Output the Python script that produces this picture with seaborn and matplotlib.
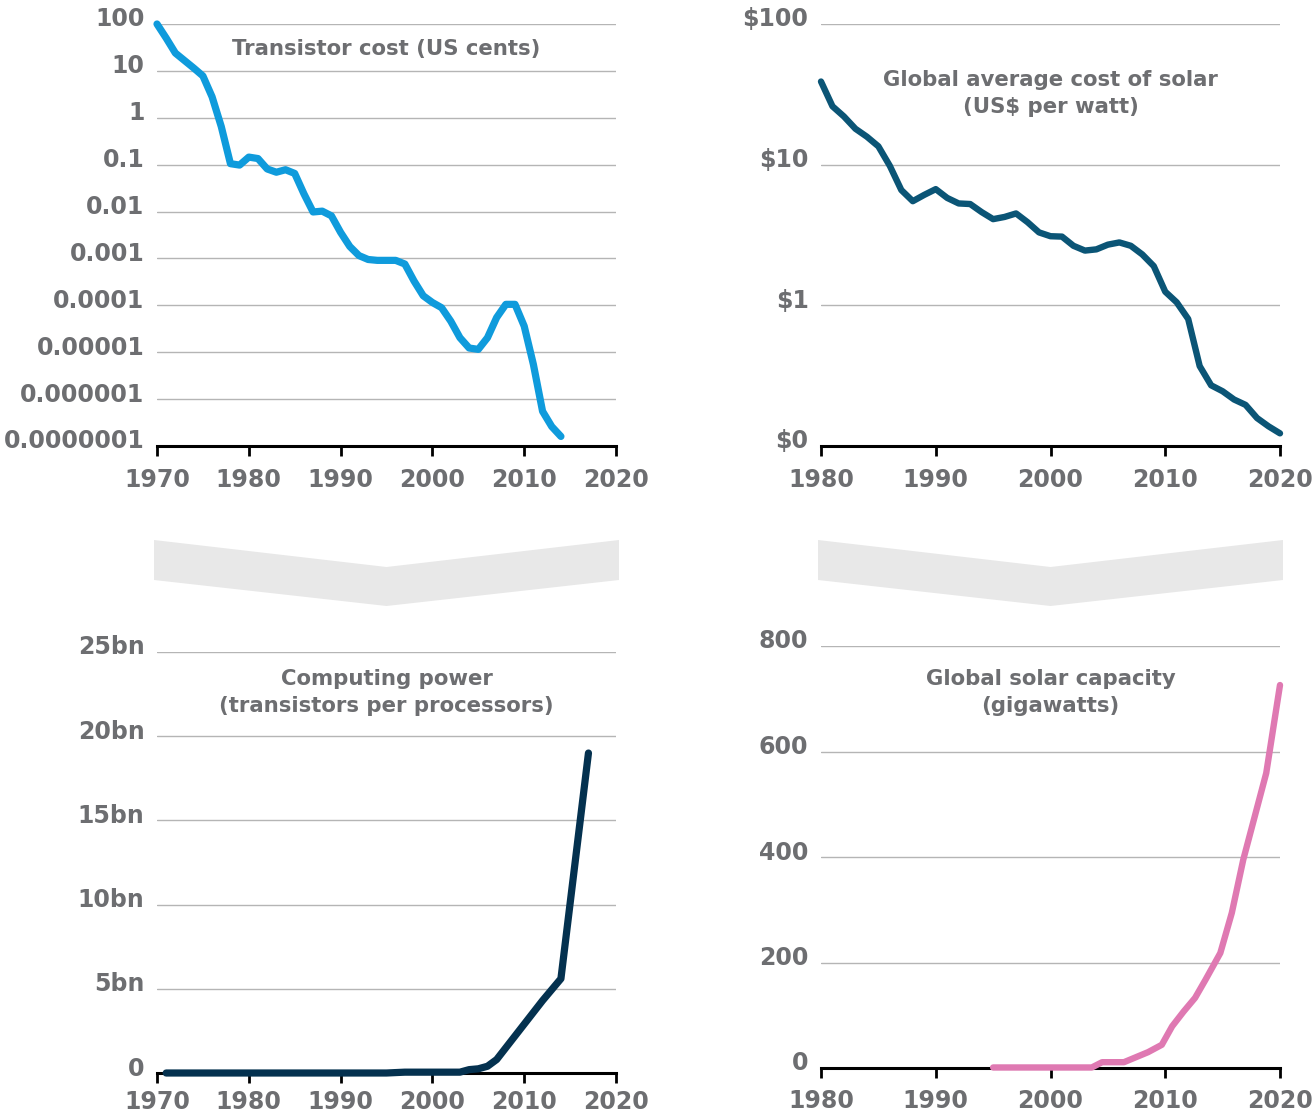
import matplotlib
matplotlib.use("Agg")
import matplotlib.pyplot as plt
import matplotlib.transforms as mtransforms
from matplotlib.patches import Polygon
import seaborn as sns

# --- Transistor cost (US cents), log scale ---
cost_years = list(range(1970, 2015))
cost_cents = [100, 50, 24, 16.6, 11.5, 7.8, 2.8, 0.65, 0.105, 0.098,
              0.145, 0.135, 0.081, 0.069, 0.078, 0.065, 0.024, 0.0098, 0.0102, 0.0081,
              0.0036, 0.0018, 0.00115, 0.00095, 0.00091, 0.00091, 0.00091, 0.00076, 0.00033, 0.00016,
              0.000115, 0.000089, 0.000046, 0.0000204, 0.0000123, 0.0000115, 0.0000204, 0.000055,
              0.000105, 0.000105, 0.000036, 0.0000055, 5.5e-7, 2.6e-7, 1.6e-7]
cost_ticks = [1e-7, 1e-6, 1e-5, 1e-4, 1e-3, 1e-2, 1e-1, 1, 10, 100]
cost_labels = ["0.0000001", "0.000001", "0.00001", "0.0001", "0.001",
               "0.01", "0.1", "1", "10", "100"]

# --- Global average cost of solar (US$ per watt), log scale ---
solar_years = list(range(1980, 2021))
solar_cost = [39, 26, 22, 18, 15.8, 13.5, 9.8, 6.6, 5.5, 6.1,
              6.7, 5.8, 5.3, 5.25, 4.6, 4.1, 4.25, 4.5, 3.9, 3.3,
              3.1, 3.08, 2.65, 2.45, 2.5, 2.7, 2.8, 2.65, 2.3, 1.9,
              1.25, 1.05, 0.8, 0.37, 0.27, 0.245, 0.214, 0.196, 0.158, 0.138,
              0.123]
solar_cost_ticks = [0.1, 1, 10, 100]
solar_cost_labels = ["$0", "$1", "$10", "$100"]

# --- Computing power (transistors per processor, billions) ---
chip_years = [1971, 1995, 1997, 2003, 2004, 2005, 2006, 2007, 2010, 2012, 2014, 2017]
chip_bn = [0, 0, 0.05, 0.05, 0.2, 0.25, 0.4, 0.8, 2.9, 4.3, 5.6, 19.0]
chip_ticks = [0, 5, 10, 15, 20, 25]
chip_labels = ["0", "5bn", "10bn", "15bn", "20bn", "25bn"]

# --- Global solar capacity (gigawatts) ---
cap_years = [1995, 2003.6, 2004.5, 2006.4, 2008.5, 2009.7, 2010.6, 2011.6, 2012.6,
             2013.5, 2014.8, 2015.8, 2016.8, 2017.8, 2018.8, 2020]
cap_gw = [1, 1, 11, 11, 30, 44, 79, 107, 133, 167, 218, 294, 395, 477, 559, 726]
cap_ticks = [0, 200, 400, 600, 800]
cap_labels = ["0", "200", "400", "600", "800"]

GREY_TEXT = "#6d6e71"
GRID = "#b5b5b5"
FONT = "DejaVu Sans"

sns.set_theme(style="white")
plt.rcParams["font.family"] = [FONT]

W, H = 1312, 1115
fig = plt.figure(figsize=(W / 100, H / 100), dpi=100)


def px_axes(x0, x1, ytop, ybot):
    return fig.add_axes([x0 / W, 1 - ybot / H, (x1 - x0) / W, (ybot - ytop) / H])


def style_axes(ax, xlim, xticks, yticks, ylabels, title, title_y, xpad=9):
    ax.set_xlim(*xlim)
    ax.set_xticks(xticks)
    ax.set_xticklabels([str(t) for t in xticks])
    ax.set_yticks(yticks)
    ax.set_yticklabels(ylabels)
    ax.set_xlabel("")
    ax.set_ylabel("")
    for s in ("top", "right", "left"):
        ax.spines[s].set_visible(False)
    ax.spines["bottom"].set_color("black")
    ax.spines["bottom"].set_linewidth(2.2)
    ax.spines["bottom"].set_zorder(4)
    ax.grid(axis="y", color=GRID, linewidth=1.0)
    ax.grid(axis="x", visible=False)
    ax.set_axisbelow(True)
    ax.tick_params(axis="x", bottom=True, length=7, width=2, color="black",
                   pad=xpad, labelsize=17, labelcolor=GREY_TEXT)
    ax.tick_params(axis="y", left=False, length=0, pad=9,
                   labelsize=17, labelcolor=GREY_TEXT)
    for lab in ax.get_xticklabels() + ax.get_yticklabels():
        lab.set_fontweight("bold")
    shift = mtransforms.ScaledTranslation(0, 7 / 100, fig.dpi_scale_trans)
    for lab in ax.get_yticklabels():
        lab.set_transform(lab.get_transform() + shift)
    ax.text(0.5, title_y, title, transform=ax.transAxes, ha="center", va="center",
            fontsize=15.3, fontweight="bold", color=GREY_TEXT, linespacing=1.45)


# Transistor cost
ax1 = px_axes(157, 616, 24, 446)
sns.lineplot(x=cost_years, y=cost_cents, ax=ax1, color="#0f9bdc", linewidth=5.2)
ax1.set_yscale("log")
ax1.set_ylim(1e-7, 100)
style_axes(ax1, (1970, 2020), list(range(1970, 2021, 10)), cost_ticks, cost_labels,
           "Transistor cost (US cents)", 0.941)
ax1.yaxis.set_minor_locator(matplotlib.ticker.NullLocator())

# Solar cost
ax2 = px_axes(821, 1280, 24, 446)
sns.lineplot(x=solar_years, y=solar_cost, ax=ax2, color="#0b5576", linewidth=4.6)
ax2.set_yscale("log")
ax2.set_ylim(0.1, 100)
style_axes(ax2, (1980, 2020), list(range(1980, 2021, 10)), solar_cost_ticks,
           solar_cost_labels, "Global average cost of solar\n(US$ per watt)", 0.835)
ax2.yaxis.set_minor_locator(matplotlib.ticker.NullLocator())

# Computing power
ax3 = px_axes(157, 616, 652, 1073)
sns.lineplot(x=chip_years, y=chip_bn, ax=ax3, color="#04314f", linewidth=5.2)
ax3.set_ylim(0, 25)
style_axes(ax3, (1970, 2020), list(range(1970, 2021, 10)), chip_ticks, chip_labels,
           "Computing power\n(transistors per processors)", 0.904, xpad=5)

# Solar capacity
ax4 = px_axes(821, 1280, 646, 1068)
sns.lineplot(x=cap_years, y=cap_gw, ax=ax4, color="#df79b2", linewidth=4.6)
ax4.set_ylim(0, 800)
style_axes(ax4, (1980, 2020), list(range(1980, 2021, 10)), cap_ticks, cap_labels,
           "Global solar capacity\n(gigawatts)", 0.89, xpad=8)

for ax in (ax1, ax2, ax3, ax4):
    for ln in ax.get_lines():
        ln.set_clip_on(False)
        ln.set_solid_capstyle("round")
        ln.set_solid_joinstyle("round")
        ln.set_zorder(5)

# Chevron arrows between the rows
def chevron(xl, xr, ytop, ydip, ybot, ybotdip):
    xm = (xl + xr) / 2
    pts = [(xl, ytop), (xm, ydip), (xr, ytop), (xr, ybot), (xm, ybotdip), (xl, ybot)]
    pts = [(x / W, 1 - y / H) for x, y in pts]
    fig.patches.append(Polygon(pts, closed=True, transform=fig.transFigure,
                               facecolor="#e8e8e8", edgecolor="none", zorder=0))

chevron(154, 619, 540, 567, 580, 606)
chevron(818, 1283, 540, 567, 580, 606)

fig.savefig("out.png", dpi=100, facecolor="white")
